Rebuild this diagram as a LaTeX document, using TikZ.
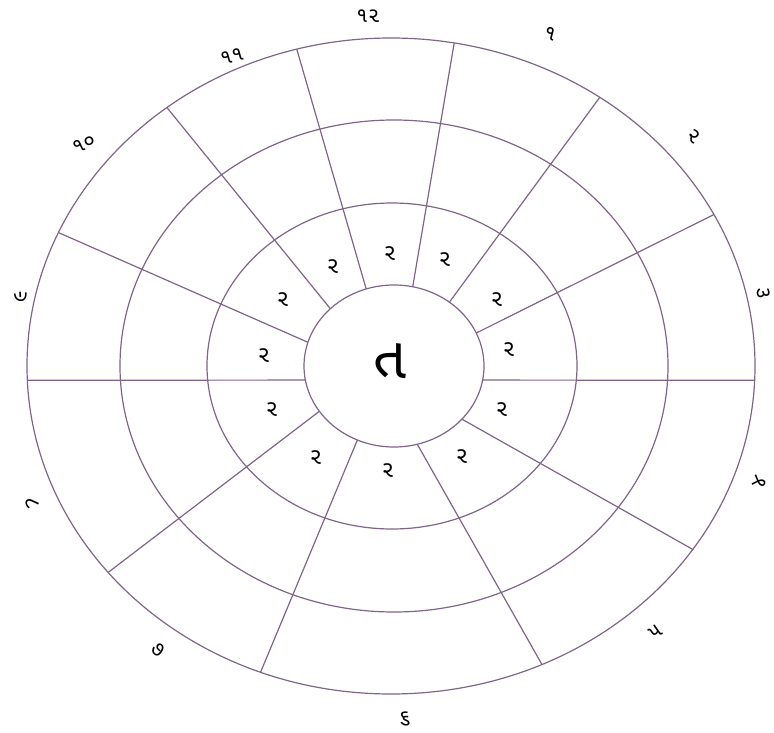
\documentclass[tikz,border=0pt]{standalone}
\usepackage{fontspec}
\newfontfamily\gujfont[Script=Gujarati]{Noto Sans Gujarati UI}
\definecolor{ringline}{RGB}{128,100,138}
\tikzset{
  ring/.style={ringline, line width=1.2pt},
  housenum/.style={font=\gujfont\fontsize{21}{21}\selectfont, inner sep=0pt},
  innersign/.style={font=\gujfont\fontsize{23}{23}\selectfont, inner sep=0pt},
  centresign/.style={font=\gujfont\fontsize{58}{58}\selectfont, inner sep=0pt},
}

\begin{document}
\begin{tikzpicture}[x=1pt,y=-1pt]
\useasboundingbox (0,0) rectangle (774,733);
% centres of the rings
\coordinate (o) at (391,366);
\coordinate (m) at (394,366);
\coordinate (n) at (392,366);
\coordinate (c) at (394,366);
% rings
\draw[ring] (o) ellipse [x radius=364pt, y radius=328pt];
\draw[ring] (m) ellipse [x radius=274pt, y radius=246pt];
\draw[ring] (n) ellipse [x radius=185pt, y radius=163pt];
\draw[ring] (c) ellipse [x radius=90pt, y radius=81pt];
% spokes, inner circle to outer ring (y runs downwards, so angles go clockwise)
\draw[ring] ([shift={(-108:90 and 81)}]c) -- ([shift={(-105:364 and 328)}]o);
\draw[ring] ([shift={(-78:90 and 81)}]c) -- ([shift={(-80:364 and 328)}]o);
\draw[ring] ([shift={(-52:90 and 81)}]c) -- ([shift={(-55:364 and 328)}]o);
\draw[ring] ([shift={(-24:90 and 81)}]c) -- ([shift={(-27.5:364 and 328)}]o);
\draw[ring] ([shift={(10:90 and 81)}]c) -- ([shift={(2.5:364 and 328)}]o);
\draw[ring] ([shift={(41:90 and 81)}]c) -- ([shift={(34:364 and 328)}]o);
\draw[ring] ([shift={(75:90 and 81)}]c) -- ([shift={(65.5:364 and 328)}]o);
\draw[ring] ([shift={(114:90 and 81)}]c) -- ([shift={(111:364 and 328)}]o);
\draw[ring] ([shift={(146:90 and 81)}]c) -- ([shift={(141:364 and 328)}]o);
\draw[ring] ([shift={(170:90 and 81)}]c) -- ([shift={(177.5:364 and 328)}]o);
\draw[ring] ([shift={(197:90 and 81)}]c) -- ([shift={(204:364 and 328)}]o);
\draw[ring] ([shift={(225:90 and 81)}]c) -- ([shift={(232:364 and 328)}]o);
% centre
\node[centresign] (centre) at (390,361) {ત};
% inner ring
\node[innersign] (r1) at (390,254) {ર};
\node[innersign] (r2) at (445,260) {ર};
\node[innersign] (r3) at (497,300) {ર};
\node[innersign] (r4) at (509,350) {ર};
\node[innersign] (r5) at (502,410) {ર};
\node[innersign] (r6) at (462,457) {ર};
\node[innersign] (r7) at (388,471) {ર};
\node[innersign] (r8) at (316,458) {ર};
\node[innersign] (r9) at (272,410) {ર};
\node[innersign] (r10) at (264,356) {ર};
\node[innersign] (r11) at (283,300) {ર};
\node[innersign] (r12) at (333,267) {ર};
% house numbers round the outside
\node[housenum] (h12) at (368,16) {૧૨};
\node[housenum, rotate=-15] (h1) at (550,34) {૧};
\node[housenum, rotate=-40] (h2) at (694,136) {૨};
\node[housenum, rotate=-80] (h3) at (764,293) {૩};
\node[housenum, rotate=70] (h4) at (760,482) {૪};
\node[housenum, rotate=35] (h5) at (656,632) {૫};
\node[housenum] (h6) at (405,719) {૬};
\node[housenum, rotate=-35] (h7) at (158,650) {૭};
\node[housenum, rotate=-70] (h8) at (32,503) {૮};
\node[housenum, rotate=80] (h9) at (20,297) {૯};
\node[housenum, rotate=25] (h10) at (84,144) {૧૦};
\node[housenum, rotate=15] (h11) at (232,56) {૧૧};
\end{tikzpicture}
\end{document}
